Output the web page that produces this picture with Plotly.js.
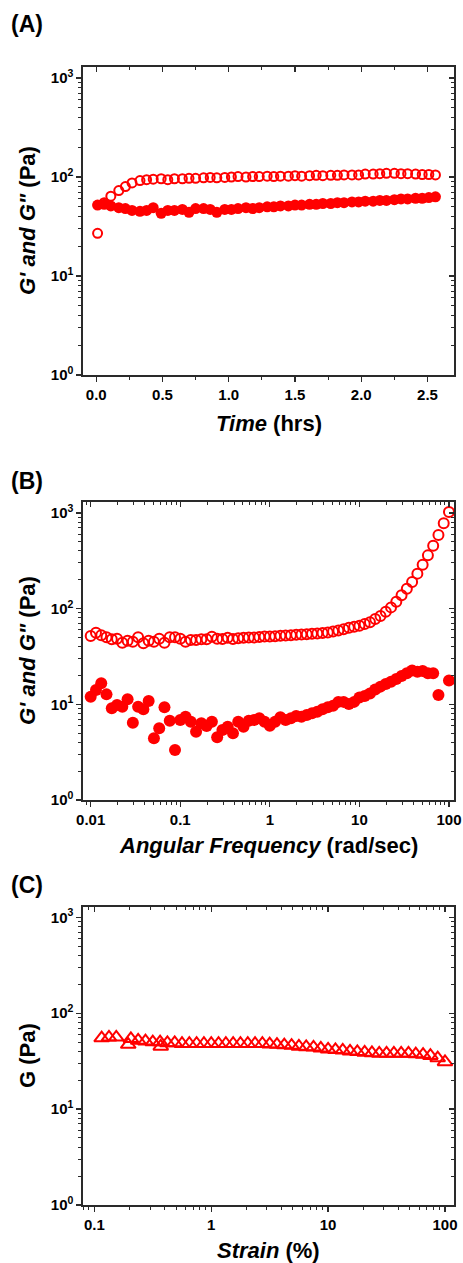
<!DOCTYPE html>
<html><head><meta charset="utf-8">
<script src="https://cdn.plot.ly/plotly-3.0.1.min.js"></script>
<style>html,body{margin:0;padding:0;background:#fff}#chart{width:463px;height:1263px}</style>
</head><body><div id="chart"></div>
<script>
// ---------- Panel A: time sweep ----------
const timeA = [0.01,0.06,0.11,0.17,0.22,0.27,0.33,0.38,0.43,0.49,0.54,0.59,0.65,0.70,0.75,0.81,0.86,0.91,0.97,1.02,1.07,1.13,1.18,1.23,1.29,1.34,1.39,1.45,1.50,1.55,1.61,1.66,1.71,1.77,1.82,1.87,1.93,1.98,2.03,2.09,2.14,2.19,2.25,2.30,2.35,2.41,2.46,2.51,2.56];
const gPrimeA = [27,55,64,73,80,87,92,94,95,96,94,96,96,97,97,98,99,98,99,100,101,100,101,101,102,101,102,102,103,102,103,104,103,104,104,105,105,105,107,107,108,109,109,108,108,107,106,106,105];
const gDoublePrimeA = [52,53,51,49,48,46,45,46,49,43,46,46,47,44,48,48,47,44,47,47,48,49,48,49,50,50,51,51,52,52,53,53,54,54,55,55,56,56,57,57,58,58,59,60,60,61,61,62,63];

// ---------- Panel B: frequency sweep ----------
const freqB = [0.01,0.01145,0.01311,0.01501,0.01719,0.01968,0.02254,0.02581,0.02955,0.03384,0.03875,0.04437,0.05081,0.05818,0.06662,0.07628,0.08735,
  0.1,0.1145,0.1311,0.1501,0.1719,0.1968,0.2254,0.2581,0.2955,0.3384,0.3875,0.4437,0.5081,0.5818,0.6662,0.7628,0.8735,
  1,1.145,1.311,1.501,1.719,1.968,2.254,2.581,2.955,3.384,3.875,4.437,5.081,5.818,6.662,7.628,8.735,
  10,11.45,13.11,15.01,17.19,19.68,22.54,25.81,29.55,33.84,38.75,44.37,50.81,58.18,66.62,76.28,87.35,100];
const gPrimeB = [51.7,56.0,52.6,50.1,47.8,48.5,44.0,46.2,45.1,50.1,43.4,46.2,45.1,48.5,44.0,50.1,50.1,48.5,45.1,47.0,47.0,47.8,47.8,50.9,48.5,
  48.0,49.5,48.2,49.0,49.5,50.0,49.8,50.5,51.0,51.2,51.5,52.0,52.3,52.8,53.2,53.5,54.0,54.5,55.0,55.6,56.3,57.5,59.0,61.0,
  63.2,64.7,66.3,69.0,71.9,77.9,83.7,92.9,103,118,138,161,190,232,288,360,454,588,778,1021];
const gDoublePrimeB = [12.0,14.1,16.6,12.7,9.08,9.84,9.44,11.3,6.43,9.44,
  8.87,10.8,4.41,5.61,9.30,6.74,3.33,6.85,7.43,6.58,
  5.18,6.33,5.93,6.58,4.52,5.39,5.83,4.98,6.58,5.83,
  6.74,6.85,7.14,6.58,5.98,6.58,7.31,6.85,7.14,7.55,
  7.43,7.73,8.05,8.37,8.87,9.30,9.68,10.6,10.6,10.1,
  10.6,11.8,12.2,13.0,14.3,15.3,16.3,17.2,18.4,19.8,
  21.1,22.5,21.9,22.3,21.1,21.1,12.5,null,17.7];

// ---------- Panel C: strain sweep ----------
const strainC = [0.1155,0.1334,0.154,0.195,0.2054,0.2371,0.2738,0.3162,0.3652,0.37,0.4217,0.487,0.5623,0.6494,0.7499,0.866,1,1.155,1.334,1.54,1.778,2.054,2.371,2.738,3.162,3.652,4.217,4.87,5.623,6.494,7.499,8.66,10,11.55,13.34,15.4,17.78,20.54,23.71,27.38,31.62,36.52,42.17,48.7,56.23,64.94,74.99,86.6,100];
const gC = [55,56,56,47,54,52,51,50,50,45,49,49,48,48,48,48,48,48,48,48,48,48,48,48,47.5,47,46.5,46,45,44.5,44,43,42,41.5,41,40,39.5,39,38.5,38,38,38,38,38,37.5,37,36,34,31];

// ---------- tick labels ----------
const yTickVals = [1,10,100,1000];
const yTickText = ['10<sup>0</sup>','10<sup>1</sup>','10<sup>2</sup>','10<sup>3</sup>'];
const xTickValsB = [0.01,0.1,1,10,100];
const xTickTextB = ['0.01','0.1','1','10','100'];
const xTickValsC = [0.1,1,10,100];
const xTickTextC = ['0.1','1','10','100'];

const minorLog = [];
for (let e = -3; e <= 3; e++) for (let d = 2; d <= 9; d++) minorLog.push(d * Math.pow(10, e));

const RED = '#ff0000';
const LINE = '#2a2a2a';
const FAM = 'Arial, "Liberation Sans", sans-serif';
const tickFont = {family: FAM, size: 15, color: '#000', weight: 'bold'};
const W = 463, H = 1263;
const xDom = [83 / W, 454 / W];
const dom = (top, bot) => [1 - bot / H, 1 - top / H];
const yDomA = dom(67, 375), yDomB = dom(502, 800), yDomC = dom(907, 1205);

function axis(o) {
  return Object.assign({
    showline: true, linecolor: LINE, linewidth: 1.6, mirror: false,
    showgrid: false, zeroline: false, tickcolor: LINE, tickwidth: 1.3, ticklen: 5,
    tickfont: tickFont, fixedrange: true
  }, o);
}
function minor(ticks, extra) {
  return Object.assign({ticks: ticks, ticklen: 3, tickcolor: LINE, tickwidth: 1, showgrid: false}, extra);
}
function logMinor(ticks) { return minor(ticks, {tickmode: 'array', tickvals: minorLog}); }

const yLog = (dm, anchor, range, side, ticks, labels, overlay) => axis(Object.assign({
  domain: dm, anchor: anchor, type: 'log', range: range, side: side, ticks: ticks,
  tickmode: 'array', tickvals: yTickVals, ticktext: yTickText, showticklabels: labels,
  minor: logMinor(ticks)
}, overlay ? {overlaying: overlay} : {}));

const layout = {
  width: W, height: H, margin: {l: 0, r: 0, t: 0, b: 0},
  paper_bgcolor: '#fff', plot_bgcolor: '#fff', showlegend: false,
  font: {family: FAM, color: '#000'},
  // Panel A
  xaxis: axis({domain: xDom, anchor: 'y', range: [-0.1, 2.7], ticks: 'outside', dtick: 0.5, tick0: 0, tickformat: '.1f', minor: minor('outside', {dtick: 0.25})}),
  yaxis: yLog(yDomA, 'x', [0, 3.111], 'left', 'outside', true),
  xaxis4: axis({domain: xDom, anchor: 'y', overlaying: 'x', side: 'top', range: [-0.1, 2.7], ticks: 'inside', dtick: 0.5, tick0: 0, showticklabels: false, minor: minor('inside', {dtick: 0.25})}),
  yaxis4: yLog(yDomA, 'x', [0, 3.111], 'right', 'inside', false, 'y'),
  // Panel B
  xaxis2: axis({domain: xDom, anchor: 'y2', type: 'log', range: [-2.086, 2.056], ticks: 'outside', tickmode: 'array', tickvals: xTickValsB, ticktext: xTickTextB, minor: logMinor('outside')}),
  yaxis2: yLog(yDomB, 'x2', [0, 3.114], 'left', 'outside', true),
  xaxis5: axis({domain: xDom, anchor: 'y2', overlaying: 'x2', side: 'top', type: 'log', range: [-2.086, 2.056], ticks: 'inside', tickmode: 'array', tickvals: xTickValsB, showticklabels: false, minor: logMinor('inside')}),
  yaxis5: yLog(yDomB, 'x2', [0, 3.114], 'right', 'inside', false, 'y2'),
  // Panel C
  xaxis3: axis({domain: xDom, anchor: 'y3', type: 'log', range: [-1.097, 2.077], ticks: 'outside', tickmode: 'array', tickvals: xTickValsC, ticktext: xTickTextC, minor: logMinor('outside')}),
  yaxis3: yLog(yDomC, 'x3', [0, 3.107], 'left', 'outside', true),
  xaxis6: axis({domain: xDom, anchor: 'y3', overlaying: 'x3', side: 'top', type: 'log', range: [-1.097, 2.077], ticks: 'inside', tickmode: 'array', tickvals: xTickValsC, showticklabels: false, minor: logMinor('inside')}),
  yaxis6: yLog(yDomC, 'x3', [0, 3.107], 'right', 'inside', false, 'y3'),
  annotations: []
};

function ann(text, xpx, ypx, size, opts) {
  layout.annotations.push(Object.assign({
    text: text, xref: 'paper', yref: 'paper', x: xpx / W, y: 1 - ypx / H,
    xanchor: 'center', yanchor: 'middle', showarrow: false,
    font: {family: FAM, size: size, color: '#000'}
  }, opts || {}));
}
ann('<b>(A)</b>', 9, 24, 23, {xanchor: 'left'});
ann('<b>(B)</b>', 9, 481, 23, {xanchor: 'left'});
ann('<b>(C)</b>', 9, 885, 23, {xanchor: 'left'});
ann('<b><i>G\' and G"</i> (Pa)</b>', 27, 221, 22, {textangle: -90});
ann('<b><i>G\' and G"</i> (Pa)</b>', 27, 651, 22, {textangle: -90});
ann('<b>G (Pa)</b>', 27, 1056, 22, {textangle: -90});
ann('<b><i>Time</i> (hrs)</b>', 268.5, 423, 22);
ann('<b><i>Angular Frequency</i> (rad/sec)</b>', 268.5, 845, 22);
ann('<b><i>Strain</i> (%)</b>', 268.5, 1250, 22);

const openC = (x, y, xa, ya, size) => ({x: x, y: y, xaxis: xa, yaxis: ya, type: 'scatter', mode: 'markers',
  marker: {symbol: 'circle-open', size: size, color: RED, line: {color: RED, width: 2}}});
const fillC = (x, y, xa, ya, size) => ({x: x, y: y, xaxis: xa, yaxis: ya, type: 'scatter', mode: 'markers',
  marker: {symbol: 'circle', size: size, color: RED, line: {width: 0}}});
const dummy = (xa, ya) => ({x: [null], y: [null], xaxis: xa, yaxis: ya, type: 'scatter', mode: 'markers', hoverinfo: 'skip'});

const data = [
  fillC(timeA, gDoublePrimeA, 'x', 'y', 11),
  openC(timeA, gPrimeA, 'x', 'y', 9),
  fillC(freqB, gDoublePrimeB, 'x2', 'y2', 12),
  openC(freqB, gPrimeB, 'x2', 'y2', 10),
  {x: strainC, y: gC, xaxis: 'x3', yaxis: 'y3', type: 'scatter', mode: 'markers',
   marker: {symbol: 'triangle-up-open', size: 13, color: RED, line: {color: RED, width: 2}}},
  dummy('x4', 'y4'), dummy('x5', 'y5'), dummy('x6', 'y6')
];

Plotly.newPlot('chart', data, layout, {staticPlot: true, displayModeBar: false});
</script>
</body></html>
